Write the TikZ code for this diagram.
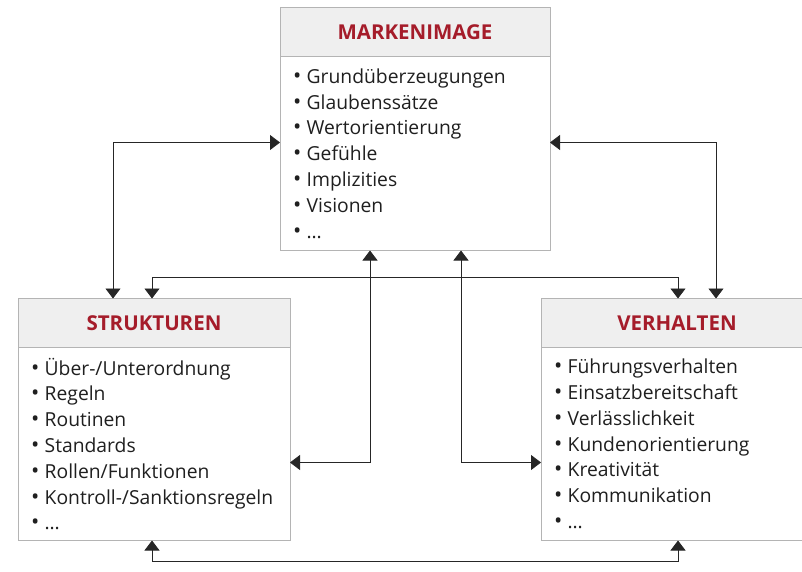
\documentclass[tikz,border=0pt]{standalone}
\usepackage{fontspec}
\setmainfont{Open Sans}
\usetikzlibrary{arrows.meta,positioning}
\definecolor{myDarkRed}{RGB}{165, 28, 42}
\definecolor{myLightGray}{RGB}{239, 239, 239}
\definecolor{myFrameGray}{RGB}{180, 180, 180}

\tikzset{
	head/.style={draw=myFrameGray, fill=myLightGray, line width=1pt, outer sep=0pt, inner sep=0pt, minimum height=49pt, font=\bfseries\fontsize{20.5}{24}\selectfont, text=myDarkRed},
	body/.style={draw=myFrameGray, fill=white, line width=1pt, outer sep=0pt, inner xsep=13pt, inner ysep=4pt, align=left, font=\fontsize{19.3}{25.8}\selectfont, text=black!88},
	link/.style={{Triangle[width=15pt,length=10pt]}-{Triangle[width=15pt,length=10pt]}, line width=0.8pt, black!85}
}
\newcommand{\itm}{{\fontsize{22}{25.8}\selectfont\textbullet}\hspace{0.28em}}

\begin{document}
\begin{tikzpicture}[x=1pt, y=-1pt]
			\useasboundingbox (0,0) rectangle (802,572);

			\draw (415,32) node[head, minimum width=270pt] (mhead) {MARKENIMAGE};
			\node[body, below=0pt of mhead, text width=244pt, minimum height=194pt] (mbody) {\itm Grundüberzeugungen\\ \itm Glaubenssätze\\ \itm Wertorientierung\\ \itm Gefühle\\ \itm Implizities\\ \itm Visionen\\ \itm …\\[7pt]};

			\draw (154,323) node[head, minimum width=272pt] (shead) {STRUKTUREN};
			\node[body, below=0pt of shead, text width=246pt, minimum height=193pt] (sbody) {\itm Über-/Unterordnung\\ \itm Regeln\\ \itm Routinen\\ \itm Standards\\ \itm Rollen/Funktionen\\ \itm Kontroll-/Sanktionsregeln\\ \itm …\\[5pt]};

			\draw (677,323) node[head, minimum width=272pt] (vhead) {VERHALTEN};
			\node[body, below=0pt of vhead, text width=246pt, minimum height=193pt] (vbody) {\itm Führungsverhalten\\ \itm Einsatzbereitschaft\\ \itm Verlässlichkeit\\ \itm Kundenorientierung\\ \itm Kreativität\\ \itm Kommunikation\\ \itm …\\[5pt]};

			\draw[link] ([yshift=11pt]mbody.west) -| ([xshift=-41pt]shead.north);
			\draw[link] ([yshift=11pt]mbody.east) -| ([xshift=39pt]vhead.north);
			\draw[link] ([xshift=-2pt]shead.north) -- ++(0,-21) -| ([xshift=1pt]vhead.north);
			\draw[link] ([xshift=-45pt]mbody.south) |- ([yshift=-18.5pt]sbody.east);
			\draw[link] ([xshift=46pt]mbody.south) |- ([yshift=-18.5pt]vbody.west);
			\draw[link] ([xshift=-2pt]sbody.south) -- ++(0,21) -| ([xshift=1pt]vbody.south);
		\end{tikzpicture}
\end{document}
